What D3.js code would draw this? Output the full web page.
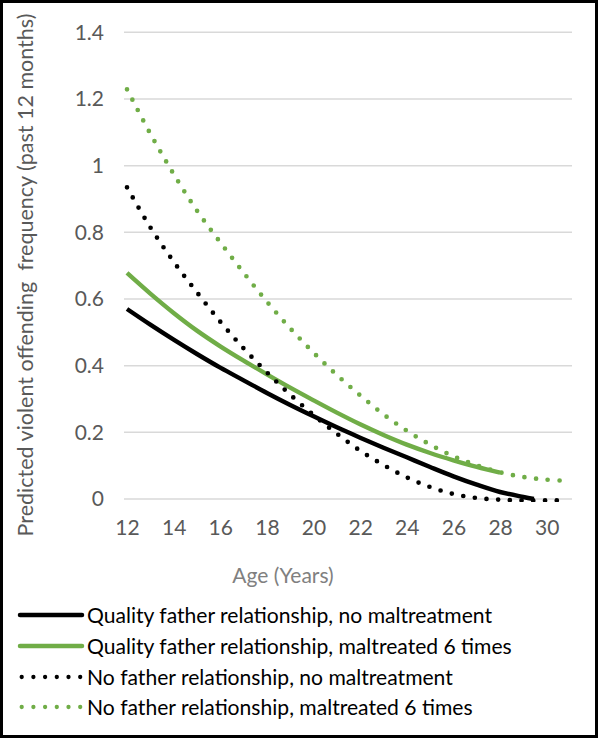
<!DOCTYPE html>
<html>
<head>
<meta charset="utf-8">
<script src="https://cdn.jsdelivr.net/npm/d3@7"></script>
<style>
  html, body { margin: 0; padding: 0; background: #fff; }
  svg { display: block; }
  text { font-family: Lato, "Open Sans", sans-serif; }
</style>
</head>
<body>
<svg id="chart" width="598" height="738"></svg>
<script>
// ---- data ----
const ages = [12, 13, 14, 15, 16, 17, 18, 19, 20, 21, 22, 23, 24, 25, 26, 27, 28, 29, 30];

const qualityNoMalt = [0.570, 0.523, 0.478, 0.435, 0.394, 0.356, 0.318, 0.282, 0.248, 0.215, 0.184, 0.154, 0.125, 0.096, 0.068, 0.043, 0.021, 0.006];
const qualityNoMaltEnd = [29.45, 0];

const qualityMalt6 = [0.678, 0.616, 0.558, 0.505, 0.458, 0.415, 0.374, 0.334, 0.296, 0.259, 0.224, 0.192, 0.163, 0.138, 0.116, 0.096, 0.079];

const noFatherNoMalt = [0.935, 0.815, 0.712, 0.620, 0.532, 0.452, 0.380, 0.313, 0.252, 0.196, 0.145, 0.102, 0.065, 0.036, 0.015, 0.003, -0.002, -0.004, -0.004];
const noFatherNoMaltEnd = [30.6, -0.004];

const noFatherMalt6 = [1.229, 1.096, 0.975, 0.865, 0.770, 0.679, 0.592, 0.512, 0.439, 0.372, 0.311, 0.254, 0.205, 0.163, 0.128, 0.101, 0.080, 0.066, 0.058];
const noFatherMalt6End = [30.7, 0.055];

const xTicks = [12, 14, 16, 18, 20, 22, 24, 26, 28, 30];
const yTicks = [0, 0.2, 0.4, 0.6, 0.8, 1, 1.2, 1.4];
const yTickLabels = ["0", "0.2", "0.4", "0.6", "0.8", "1", "1.2", "1.4"];

const seriesNames = [
  "Quality father relationship, no maltreatment",
  "Quality father relationship, maltreated 6 times",
  "No father relationship, no maltreatment",
  "No father relationship, maltreated 6 times"
];

const yTitle = "Predicted violent offending\u00a0 frequency (past 12 months)";
const xTitle = "Age (Years)";

// ---- build ----
const svg = d3.select("#chart");
const W = 598, H = 738;
const GREEN = "#70ad47";
const FONT = "Lato, 'Open Sans', sans-serif";

const x = d3.scaleLinear().domain([12, 30]).range([127, 546.7]);
const y = d3.scaleLinear().domain([0, 1.4]).range([499, 32.3]);
const plotLeft = 124, plotRight = 572;

function pts(vals, end) {
  const p = vals.map((v, i) => [ages[i], v]);
  if (end) p.push(end);
  return p;
}

const series = [
  { name: seriesNames[0], data: pts(qualityNoMalt, qualityNoMaltEnd), color: "#000", dotted: false },
  { name: seriesNames[1], data: pts(qualityMalt6), color: GREEN, dotted: false },
  { name: seriesNames[2], data: pts(noFatherNoMalt, noFatherNoMaltEnd), color: "#000", dotted: true },
  { name: seriesNames[3], data: pts(noFatherMalt6, noFatherMalt6End), color: GREEN, dotted: true }
];

// gridlines
svg.append("g")
  .selectAll("line")
  .data(yTicks)
  .join("line")
  .attr("x1", plotLeft).attr("x2", plotRight)
  .attr("y1", d => y(d)).attr("y2", d => y(d))
  .attr("stroke", "#d9d9d9").attr("stroke-width", 1.5);

// y axis
const yAxis = svg.append("g")
  .attr("transform", "translate(104,0)")
  .call(d3.axisLeft(y).tickValues(yTicks).tickSize(0).tickPadding(0)
    .tickFormat((d, i) => yTickLabels[i]));
yAxis.select(".domain").remove();
yAxis.selectAll("text")
  .attr("fill", "#595959").attr("font-size", 21)
  .style("font-family", FONT);

// x axis
const xAxis = svg.append("g")
  .attr("transform", "translate(0,520)")
  .call(d3.axisBottom(x).tickValues(xTicks).tickSize(0).tickPadding(0));
xAxis.select(".domain").remove();
xAxis.selectAll("text")
  .attr("fill", "#595959").attr("font-size", 21)
  .style("font-family", FONT);

// clip
svg.append("clipPath").attr("id", "plotclip")
  .append("rect").attr("x", plotLeft - 10).attr("y", 20)
  .attr("width", plotRight - plotLeft + 20).attr("height", 482);

const line = d3.line()
  .x(d => x(d[0])).y(d => y(d[1]))
  .curve(d3.curveCatmullRom.alpha(0.5));

const lines = svg.append("g").attr("clip-path", "url(#plotclip)");
lines.selectAll("path")
  .data(series)
  .join("path")
  .attr("d", d => line(d.data))
  .attr("fill", "none")
  .attr("stroke", d => d.color)
  .attr("stroke-width", d => d.dotted ? 4.7 : 4.4)
  .attr("stroke-linecap", d => d.dotted ? "round" : "butt")
  .attr("stroke-dasharray", d => d.dotted ? "0 11.7" : null);

// axis titles
svg.append("text")
  .attr("transform", "translate(33,275) rotate(-90)")
  .attr("text-anchor", "middle")
  .attr("fill", "#595959")
  .attr("font-size", 21.5)
  .text(yTitle);

svg.append("text")
  .attr("x", 283).attr("y", 583)
  .attr("text-anchor", "middle")
  .attr("fill", "#808080")
  .attr("font-size", 21)
  .text(xTitle);

// legend
const legendY = [615, 646, 677, 707];
const leg = svg.append("g");
series.forEach((s, i) => {
  const g = leg.append("g").attr("transform", `translate(0,${legendY[i]})`);
  if (s.dotted) {
    g.append("line").attr("x1", 21.7).attr("x2", 80.3).attr("y1", 0).attr("y2", 0)
      .attr("stroke", s.color).attr("stroke-width", 4.3)
      .attr("stroke-linecap", "round").attr("stroke-dasharray", "0 11.7");
  } else {
    g.append("line").attr("x1", 20).attr("x2", 82).attr("y1", 0).attr("y2", 0)
      .attr("stroke", s.color).attr("stroke-width", 4.5).attr("stroke-linecap", "round");
  }
  g.append("text").attr("x", 87).attr("y", 7.5)
    .attr("fill", "#000").attr("font-size", 21.1)
    .text(s.name);
});

// outer border
svg.append("rect")
  .attr("x", 1.5).attr("y", 1.5).attr("width", W - 3).attr("height", H - 3)
  .attr("fill", "none").attr("stroke", "#000").attr("stroke-width", 3);
</script>
</body>
</html>
